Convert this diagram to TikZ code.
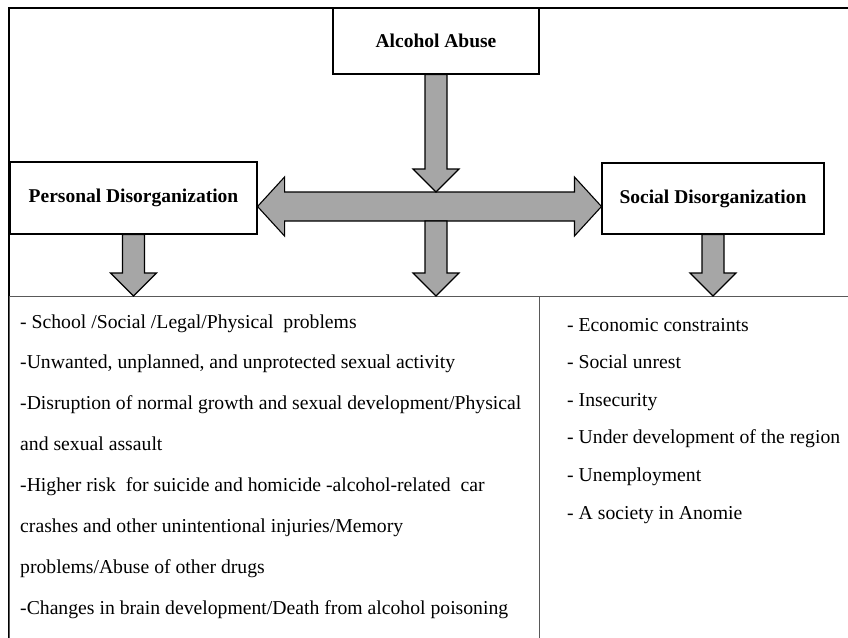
\documentclass[tikz,border=0pt]{standalone}
\usepackage{fontspec}
\setmainfont{Liberation Serif}
\usetikzlibrary{calc}

\definecolor{arrowgray}{HTML}{A6A6A6}
\tikzset{
  hdr/.style={draw,line width=1.1pt,fill=white,inner sep=0pt,
    font=\fontsize{19.5}{23}\selectfont\bfseries},
  panel/.style={draw=black!65,line width=1pt,anchor=north west,inner sep=0pt},
  item/.style={anchor=base west,inner sep=0pt,font=\fontsize{19.7}{24}\selectfont},
  blockarrow/.style={draw,line width=1.1pt,fill=arrowgray,line join=miter}
}

% fat arrow pointing down, shaft starts at #1, tip at #2
\newcommand{\blockdown}[2]{%
  \draw[blockarrow] let \p1=(#1), \p2=(#2) in
    (\x1-11pt,\y1) -- (\x1-11pt,\y2+23pt) -- (\x1-23pt,\y2+23pt) -- (\x1,\y2)
    -- (\x1+23pt,\y2+23pt) -- (\x1+11pt,\y2+23pt) -- (\x1+11pt,\y1) -- cycle;
}

\begin{document}
\begin{tikzpicture}[x=1pt,y=-1pt]
\useasboundingbox (0,0) rectangle (848,637);
\clip (0,0) rectangle (848,637);
% frame and panels
\draw[line width=1.5pt] (9,660) -- (9,8) -- (860,8);
\node[panel,minimum width=530,minimum height=360] (effects) at (9,296) {};
\node[panel,minimum width=330,minimum height=360] (impacts) at (539,296) {};
% boxes
\node[hdr,minimum width=206,minimum height=66] (abuse) at (436,41) {Alcohol Abuse};
\node[hdr,minimum width=247,minimum height=72] (personal) at (133.5,198) {Personal Disorganization};
\node[hdr,minimum width=222,minimum height=71] (social) at (713,198.5) {Social Disorganization};
% arrows
\coordinate (hubtop) at (436,192);
\coordinate (hubbot) at (436,221);
\draw[blockarrow] let \p1=($(personal.east)+(0,8.5)$), \p2=($(social.west)+(0,8)$) in
  (\x1,\y1) -- (\x1+27pt,\y1+29.5pt) -- (\x1+27pt,\y1+14.5pt) -- (\x2-27pt,\y1+14.5pt)
  -- (\x2-27pt,\y1+29.5pt) -- (\x2,\y1) -- (\x2-27pt,\y1-29.5pt) -- (\x2-27pt,\y1-14.5pt)
  -- (\x1+27pt,\y1-14.5pt) -- (\x1+27pt,\y1-29.5pt) -- cycle;
\blockdown{abuse.south}{hubtop}
\blockdown{hubbot}{effects.north -| hubbot}
\blockdown{personal.south}{effects.north -| personal.south}
\blockdown{social.south}{impacts.north -| social.south}
% lists
\foreach \t [count=\i] in {{- School /Social /Legal/Physical\ \ problems},
  {-Unwanted, unplanned, and unprotected sexual activity},
  {-Disruption of normal growth and sexual development/Physical},
  {and sexual assault},
  {-Higher risk\ \ for suicide and homicide -alcohol-related\ \ car},
  {crashes and other unintentional injuries/Memory},
  {problems/Abuse of other drugs},
  {-Changes in brain development/Death from alcohol poisoning}}
  \node[item] (pl\i) at (20,{328+40.9*(\i-1)}) {\t};
\foreach \t [count=\i] in {- Economic constraints,- Social unrest,- Insecurity,
  - Under development of the region,- Unemployment,- A society in Anomie}
  \node[item] (sl\i) at (567,{331+37.6*(\i-1)}) {\t};
\end{tikzpicture}
\end{document}
